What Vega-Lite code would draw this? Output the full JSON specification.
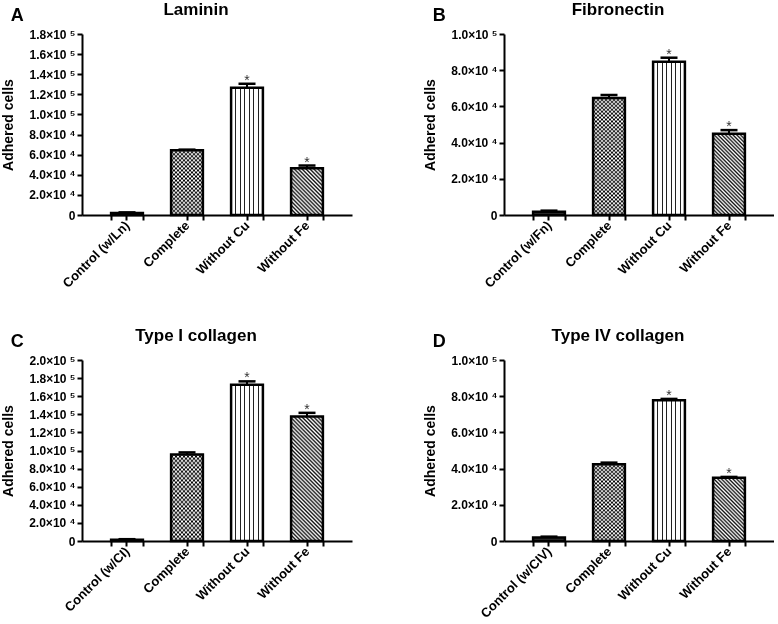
{
"$schema": "https://vega.github.io/schema/vega-lite/v6.json",
"background": "white",
"padding": {"left": 1, "top": 1, "right": 0, "bottom": 0},
"spacing": 36,
"vconcat": [
{"hconcat": [
{"title": {"text": "A", "anchor": "start", "frame": "bounds", "fontSize": 18, "offset": -24, "dx": 9},
 "vconcat": [{
  "width": 270, "height": 181,
  "title": {"text": "Laminin", "dx": -21},
  "data": {"values": [
   {"g": "Control (w/Ln)", "k": "ctl", "v": 2000, "u": 2600, "s": ""},
   {"g": "Complete", "k": "cmp", "v": 64500, "u": 65000, "s": ""},
   {"g": "Without Cu", "k": "cu", "v": 126500, "u": 130500, "s": "*"},
   {"g": "Without Fe", "k": "fe", "v": 46400, "u": 49200, "s": "*"}]},
  "encoding": {
   "x": {"field": "g", "type": "nominal", "sort": null, "scale": {"paddingInner": 0.47, "paddingOuter": 0.485}, "axis": null},
   "y": {"field": "v", "type": "quantitative", "scale": {"domain": [0, 180000], "nice": false},
     "axis": {"title": "Adhered cells", "values": [0,20000,40000,60000,80000,100000,120000,140000,160000,180000],
       "labelExpr": "datum.value == 0 ? '0' : (datum.value >= 100000 ? format(datum.value/100000, '.1f') + '×10 ⁵' : format(datum.value/10000, '.1f') + '×10 ⁴')"}}},
  "resolve": {"axis": {"x": "independent"}},
  "layer": [
   {"transform": [{"filter": "datum.k == 'ctl'"}], "mark": {"type": "bar", "fill": "#333"},
    "encoding": {"x": {"field": "g", "type": "nominal", "sort": null, "scale": {"paddingInner": 0.47, "paddingOuter": 0.485}, "axis": {"orient": "bottom", "title": null, "tickBand": "extent", "labelAngle": -45, "labelAlign": "right", "labelBaseline": "middle"}}}},
   {"transform": [{"filter": "datum.k == 'cmp'"}], "mark": {"type": "bar", "fill": {"gradient": "linear", "x1": 0, "y1": 0, "x2": 1, "y2": 0, "stops": [
   {"offset": 0, "color": "#000"}, {"offset": 0.0625, "color": "#000"}, {"offset": 0.0625, "color": "#fff"}, {"offset": 0.125, "color": "#fff"},
   {"offset": 0.125, "color": "#000"}, {"offset": 0.1875, "color": "#000"}, {"offset": 0.1875, "color": "#fff"}, {"offset": 0.25, "color": "#fff"},
   {"offset": 0.25, "color": "#000"}, {"offset": 0.3125, "color": "#000"}, {"offset": 0.3125, "color": "#fff"}, {"offset": 0.375, "color": "#fff"},
   {"offset": 0.375, "color": "#000"}, {"offset": 0.4375, "color": "#000"}, {"offset": 0.4375, "color": "#fff"}, {"offset": 0.5, "color": "#fff"},
   {"offset": 0.5, "color": "#000"}, {"offset": 0.5625, "color": "#000"}, {"offset": 0.5625, "color": "#fff"}, {"offset": 0.625, "color": "#fff"},
   {"offset": 0.625, "color": "#000"}, {"offset": 0.6875, "color": "#000"}, {"offset": 0.6875, "color": "#fff"}, {"offset": 0.75, "color": "#fff"},
   {"offset": 0.75, "color": "#000"}, {"offset": 0.8125, "color": "#000"}, {"offset": 0.8125, "color": "#fff"}, {"offset": 0.875, "color": "#fff"},
   {"offset": 0.875, "color": "#000"}, {"offset": 0.9375, "color": "#000"}, {"offset": 0.9375, "color": "#fff"}, {"offset": 1, "color": "#fff"}]}}},
   {"transform": [{"filter": "datum.k == 'cmp'"}], "mark": {"type": "bar", "blend": "difference", "fill": {"gradient": "linear", "x1": 0, "y1": 0, "x2": 0, "y2": 1, "stops": [
   {"offset": 0, "color": "#fff"}, {"offset": 0.03125, "color": "rgba(255,255,255,0)"}, {"offset": 0.0625, "color": "#fff"}, {"offset": 0.09375, "color": "rgba(255,255,255,0)"},
   {"offset": 0.125, "color": "#fff"}, {"offset": 0.15625, "color": "rgba(255,255,255,0)"}, {"offset": 0.1875, "color": "#fff"}, {"offset": 0.21875, "color": "rgba(255,255,255,0)"},
   {"offset": 0.25, "color": "#fff"}, {"offset": 0.28125, "color": "rgba(255,255,255,0)"}, {"offset": 0.3125, "color": "#fff"}, {"offset": 0.34375, "color": "rgba(255,255,255,0)"},
   {"offset": 0.375, "color": "#fff"}, {"offset": 0.40625, "color": "rgba(255,255,255,0)"}, {"offset": 0.4375, "color": "#fff"}, {"offset": 0.46875, "color": "rgba(255,255,255,0)"},
   {"offset": 0.5, "color": "#fff"}, {"offset": 0.53125, "color": "rgba(255,255,255,0)"}, {"offset": 0.5625, "color": "#fff"}, {"offset": 0.59375, "color": "rgba(255,255,255,0)"},
   {"offset": 0.625, "color": "#fff"}, {"offset": 0.65625, "color": "rgba(255,255,255,0)"}, {"offset": 0.6875, "color": "#fff"}, {"offset": 0.71875, "color": "rgba(255,255,255,0)"},
   {"offset": 0.75, "color": "#fff"}, {"offset": 0.78125, "color": "rgba(255,255,255,0)"}, {"offset": 0.8125, "color": "#fff"}, {"offset": 0.84375, "color": "rgba(255,255,255,0)"},
   {"offset": 0.875, "color": "#fff"}, {"offset": 0.90625, "color": "rgba(255,255,255,0)"}, {"offset": 0.9375, "color": "#fff"}, {"offset": 0.96875, "color": "rgba(255,255,255,0)"},
   {"offset": 1, "color": "#fff"}]}}},
   {"transform": [{"filter": "datum.k == 'cu'"}], "mark": {"type": "bar", "fill": {"gradient": "linear", "x1": 0, "y1": 0, "x2": 1, "y2": 0, "stops": [
   {"offset": 0, "color": "#fff"},
   {"offset": 0.125, "color": "#fff"}, {"offset": 0.125, "color": "#222"}, {"offset": 0.161, "color": "#222"}, {"offset": 0.161, "color": "#fff"},
   {"offset": 0.268, "color": "#fff"}, {"offset": 0.268, "color": "#222"}, {"offset": 0.304, "color": "#222"}, {"offset": 0.304, "color": "#fff"},
   {"offset": 0.411, "color": "#fff"}, {"offset": 0.411, "color": "#222"}, {"offset": 0.447, "color": "#222"}, {"offset": 0.447, "color": "#fff"},
   {"offset": 0.553, "color": "#fff"}, {"offset": 0.553, "color": "#222"}, {"offset": 0.589, "color": "#222"}, {"offset": 0.589, "color": "#fff"},
   {"offset": 0.696, "color": "#fff"}, {"offset": 0.696, "color": "#222"}, {"offset": 0.732, "color": "#222"}, {"offset": 0.732, "color": "#fff"},
   {"offset": 0.839, "color": "#fff"}, {"offset": 0.839, "color": "#222"}, {"offset": 0.875, "color": "#222"}, {"offset": 0.875, "color": "#fff"},
   {"offset": 1, "color": "#fff"}]}}},
   {"transform": [{"filter": "datum.k == 'fe'"}], "mark": {"type": "bar", "fill": {"gradient": "linear", "x1": 0, "y1": 1, "x2": 0.79, "y2": -0.145, "stops": [
   {"offset": 0, "color": "#fff"}, {"offset": 0.025, "color": "#111"}, {"offset": 0.05, "color": "#fff"}, {"offset": 0.075, "color": "#111"},
   {"offset": 0.1, "color": "#fff"}, {"offset": 0.125, "color": "#111"}, {"offset": 0.15, "color": "#fff"}, {"offset": 0.175, "color": "#111"},
   {"offset": 0.2, "color": "#fff"}, {"offset": 0.225, "color": "#111"}, {"offset": 0.25, "color": "#fff"}, {"offset": 0.275, "color": "#111"},
   {"offset": 0.3, "color": "#fff"}, {"offset": 0.325, "color": "#111"}, {"offset": 0.35, "color": "#fff"}, {"offset": 0.375, "color": "#111"},
   {"offset": 0.4, "color": "#fff"}, {"offset": 0.425, "color": "#111"}, {"offset": 0.45, "color": "#fff"}, {"offset": 0.475, "color": "#111"},
   {"offset": 0.5, "color": "#fff"}, {"offset": 0.525, "color": "#111"}, {"offset": 0.55, "color": "#fff"}, {"offset": 0.575, "color": "#111"},
   {"offset": 0.6, "color": "#fff"}, {"offset": 0.625, "color": "#111"}, {"offset": 0.65, "color": "#fff"}, {"offset": 0.675, "color": "#111"},
   {"offset": 0.7, "color": "#fff"}, {"offset": 0.725, "color": "#111"}, {"offset": 0.75, "color": "#fff"}, {"offset": 0.775, "color": "#111"},
   {"offset": 0.8, "color": "#fff"}, {"offset": 0.825, "color": "#111"}, {"offset": 0.85, "color": "#fff"}, {"offset": 0.875, "color": "#111"},
   {"offset": 0.9, "color": "#fff"}, {"offset": 0.925, "color": "#111"}, {"offset": 0.95, "color": "#fff"}, {"offset": 0.975, "color": "#111"},
   {"offset": 1, "color": "#fff"}]}}},
   {"mark": {"type": "bar", "fill": "transparent", "stroke": "black", "strokeWidth": 2.5},
    "encoding": {"x": {"field": "g", "type": "nominal", "sort": null, "scale": {"paddingInner": 0.47, "paddingOuter": 0.485}, "axis": {"orient": "bottom", "title": null, "labels": false, "domain": false}}}},
   {"mark": {"type": "rule", "strokeWidth": 2, "color": "black"}, "encoding": {"y2": {"field": "u"}}},
   {"mark": {"type": "tick", "thickness": 2.5, "size": 17, "color": "black", "opacity": 1}, "encoding": {"y": {"field": "u", "type": "quantitative"}}},
   {"mark": {"type": "text", "fontSize": 14, "color": "#333", "baseline": "alphabetic", "dy": 1, "font": "Liberation Sans"}, "encoding": {"y": {"field": "u", "type": "quantitative"}, "text": {"field": "s"}}}
  ]}]},
{"title": {"text": "B", "anchor": "start", "frame": "bounds", "fontSize": 18, "offset": -24, "dx": 9},
 "vconcat": [{
  "width": 270, "height": 181,
  "title": {"text": "Fibronectin", "dx": -21},
  "data": {"values": [
   {"g": "Control (w/Fn)", "k": "ctl", "v": 1800, "u": 2400, "s": ""},
   {"g": "Complete", "k": "cmp", "v": 64600, "u": 66300, "s": ""},
   {"g": "Without Cu", "k": "cu", "v": 84700, "u": 86900, "s": "*"},
   {"g": "Without Fe", "k": "fe", "v": 44900, "u": 46900, "s": "*"}]},
  "encoding": {
   "x": {"field": "g", "type": "nominal", "sort": null, "scale": {"paddingInner": 0.47, "paddingOuter": 0.485}, "axis": null},
   "y": {"field": "v", "type": "quantitative", "scale": {"domain": [0, 100000], "nice": false},
     "axis": {"title": "Adhered cells", "values": [0,20000,40000,60000,80000,100000],
       "labelExpr": "datum.value == 0 ? '0' : (datum.value >= 100000 ? format(datum.value/100000, '.1f') + '×10 ⁵' : format(datum.value/10000, '.1f') + '×10 ⁴')"}}},
  "resolve": {"axis": {"x": "independent"}},
  "layer": [
   {"transform": [{"filter": "datum.k == 'ctl'"}], "mark": {"type": "bar", "fill": "#333"},
    "encoding": {"x": {"field": "g", "type": "nominal", "sort": null, "scale": {"paddingInner": 0.47, "paddingOuter": 0.485}, "axis": {"orient": "bottom", "title": null, "tickBand": "extent", "labelAngle": -45, "labelAlign": "right", "labelBaseline": "middle"}}}},
   {"transform": [{"filter": "datum.k == 'cmp'"}], "mark": {"type": "bar", "fill": {"gradient": "linear", "x1": 0, "y1": 0, "x2": 1, "y2": 0, "stops": [
   {"offset": 0, "color": "#000"}, {"offset": 0.0625, "color": "#000"}, {"offset": 0.0625, "color": "#fff"}, {"offset": 0.125, "color": "#fff"},
   {"offset": 0.125, "color": "#000"}, {"offset": 0.1875, "color": "#000"}, {"offset": 0.1875, "color": "#fff"}, {"offset": 0.25, "color": "#fff"},
   {"offset": 0.25, "color": "#000"}, {"offset": 0.3125, "color": "#000"}, {"offset": 0.3125, "color": "#fff"}, {"offset": 0.375, "color": "#fff"},
   {"offset": 0.375, "color": "#000"}, {"offset": 0.4375, "color": "#000"}, {"offset": 0.4375, "color": "#fff"}, {"offset": 0.5, "color": "#fff"},
   {"offset": 0.5, "color": "#000"}, {"offset": 0.5625, "color": "#000"}, {"offset": 0.5625, "color": "#fff"}, {"offset": 0.625, "color": "#fff"},
   {"offset": 0.625, "color": "#000"}, {"offset": 0.6875, "color": "#000"}, {"offset": 0.6875, "color": "#fff"}, {"offset": 0.75, "color": "#fff"},
   {"offset": 0.75, "color": "#000"}, {"offset": 0.8125, "color": "#000"}, {"offset": 0.8125, "color": "#fff"}, {"offset": 0.875, "color": "#fff"},
   {"offset": 0.875, "color": "#000"}, {"offset": 0.9375, "color": "#000"}, {"offset": 0.9375, "color": "#fff"}, {"offset": 1, "color": "#fff"}]}}},
   {"transform": [{"filter": "datum.k == 'cmp'"}], "mark": {"type": "bar", "blend": "difference", "fill": {"gradient": "linear", "x1": 0, "y1": 0, "x2": 0, "y2": 1, "stops": [
   {"offset": 0, "color": "#fff"}, {"offset": 0.0167, "color": "rgba(255,255,255,0)"}, {"offset": 0.0333, "color": "#fff"}, {"offset": 0.05, "color": "rgba(255,255,255,0)"},
   {"offset": 0.0667, "color": "#fff"}, {"offset": 0.0833, "color": "rgba(255,255,255,0)"}, {"offset": 0.1, "color": "#fff"}, {"offset": 0.1167, "color": "rgba(255,255,255,0)"},
   {"offset": 0.1333, "color": "#fff"}, {"offset": 0.15, "color": "rgba(255,255,255,0)"}, {"offset": 0.1667, "color": "#fff"}, {"offset": 0.1833, "color": "rgba(255,255,255,0)"},
   {"offset": 0.2, "color": "#fff"}, {"offset": 0.2167, "color": "rgba(255,255,255,0)"}, {"offset": 0.2333, "color": "#fff"}, {"offset": 0.25, "color": "rgba(255,255,255,0)"},
   {"offset": 0.2667, "color": "#fff"}, {"offset": 0.2833, "color": "rgba(255,255,255,0)"}, {"offset": 0.3, "color": "#fff"}, {"offset": 0.3167, "color": "rgba(255,255,255,0)"},
   {"offset": 0.3333, "color": "#fff"}, {"offset": 0.35, "color": "rgba(255,255,255,0)"}, {"offset": 0.3667, "color": "#fff"}, {"offset": 0.3833, "color": "rgba(255,255,255,0)"},
   {"offset": 0.4, "color": "#fff"}, {"offset": 0.4167, "color": "rgba(255,255,255,0)"}, {"offset": 0.4333, "color": "#fff"}, {"offset": 0.45, "color": "rgba(255,255,255,0)"},
   {"offset": 0.4667, "color": "#fff"}, {"offset": 0.4833, "color": "rgba(255,255,255,0)"}, {"offset": 0.5, "color": "#fff"}, {"offset": 0.5167, "color": "rgba(255,255,255,0)"},
   {"offset": 0.5333, "color": "#fff"}, {"offset": 0.55, "color": "rgba(255,255,255,0)"}, {"offset": 0.5667, "color": "#fff"}, {"offset": 0.5833, "color": "rgba(255,255,255,0)"},
   {"offset": 0.6, "color": "#fff"}, {"offset": 0.6167, "color": "rgba(255,255,255,0)"}, {"offset": 0.6333, "color": "#fff"}, {"offset": 0.65, "color": "rgba(255,255,255,0)"},
   {"offset": 0.6667, "color": "#fff"}, {"offset": 0.6833, "color": "rgba(255,255,255,0)"}, {"offset": 0.7, "color": "#fff"}, {"offset": 0.7167, "color": "rgba(255,255,255,0)"},
   {"offset": 0.7333, "color": "#fff"}, {"offset": 0.75, "color": "rgba(255,255,255,0)"}, {"offset": 0.7667, "color": "#fff"}, {"offset": 0.7833, "color": "rgba(255,255,255,0)"},
   {"offset": 0.8, "color": "#fff"}, {"offset": 0.8167, "color": "rgba(255,255,255,0)"}, {"offset": 0.8333, "color": "#fff"}, {"offset": 0.85, "color": "rgba(255,255,255,0)"},
   {"offset": 0.8667, "color": "#fff"}, {"offset": 0.8833, "color": "rgba(255,255,255,0)"}, {"offset": 0.9, "color": "#fff"}, {"offset": 0.9167, "color": "rgba(255,255,255,0)"},
   {"offset": 0.9333, "color": "#fff"}, {"offset": 0.95, "color": "rgba(255,255,255,0)"}, {"offset": 0.9667, "color": "#fff"}, {"offset": 0.9833, "color": "rgba(255,255,255,0)"},
   {"offset": 1, "color": "#fff"}]}}},
   {"transform": [{"filter": "datum.k == 'cu'"}], "mark": {"type": "bar", "fill": {"gradient": "linear", "x1": 0, "y1": 0, "x2": 1, "y2": 0, "stops": [
   {"offset": 0, "color": "#fff"},
   {"offset": 0.125, "color": "#fff"}, {"offset": 0.125, "color": "#222"}, {"offset": 0.161, "color": "#222"}, {"offset": 0.161, "color": "#fff"},
   {"offset": 0.268, "color": "#fff"}, {"offset": 0.268, "color": "#222"}, {"offset": 0.304, "color": "#222"}, {"offset": 0.304, "color": "#fff"},
   {"offset": 0.411, "color": "#fff"}, {"offset": 0.411, "color": "#222"}, {"offset": 0.447, "color": "#222"}, {"offset": 0.447, "color": "#fff"},
   {"offset": 0.553, "color": "#fff"}, {"offset": 0.553, "color": "#222"}, {"offset": 0.589, "color": "#222"}, {"offset": 0.589, "color": "#fff"},
   {"offset": 0.696, "color": "#fff"}, {"offset": 0.696, "color": "#222"}, {"offset": 0.732, "color": "#222"}, {"offset": 0.732, "color": "#fff"},
   {"offset": 0.839, "color": "#fff"}, {"offset": 0.839, "color": "#222"}, {"offset": 0.875, "color": "#222"}, {"offset": 0.875, "color": "#fff"},
   {"offset": 1, "color": "#fff"}]}}},
   {"transform": [{"filter": "datum.k == 'fe'"}], "mark": {"type": "bar", "fill": {"gradient": "linear", "x1": 0, "y1": 1, "x2": 0.477, "y2": -0.207, "stops": [
   {"offset": 0, "color": "#fff"}, {"offset": 0.0167, "color": "#111"}, {"offset": 0.0333, "color": "#fff"}, {"offset": 0.05, "color": "#111"},
   {"offset": 0.0667, "color": "#fff"}, {"offset": 0.0833, "color": "#111"}, {"offset": 0.1, "color": "#fff"}, {"offset": 0.1167, "color": "#111"},
   {"offset": 0.1333, "color": "#fff"}, {"offset": 0.15, "color": "#111"}, {"offset": 0.1667, "color": "#fff"}, {"offset": 0.1833, "color": "#111"},
   {"offset": 0.2, "color": "#fff"}, {"offset": 0.2167, "color": "#111"}, {"offset": 0.2333, "color": "#fff"}, {"offset": 0.25, "color": "#111"},
   {"offset": 0.2667, "color": "#fff"}, {"offset": 0.2833, "color": "#111"}, {"offset": 0.3, "color": "#fff"}, {"offset": 0.3167, "color": "#111"},
   {"offset": 0.3333, "color": "#fff"}, {"offset": 0.35, "color": "#111"}, {"offset": 0.3667, "color": "#fff"}, {"offset": 0.3833, "color": "#111"},
   {"offset": 0.4, "color": "#fff"}, {"offset": 0.4167, "color": "#111"}, {"offset": 0.4333, "color": "#fff"}, {"offset": 0.45, "color": "#111"},
   {"offset": 0.4667, "color": "#fff"}, {"offset": 0.4833, "color": "#111"}, {"offset": 0.5, "color": "#fff"}, {"offset": 0.5167, "color": "#111"},
   {"offset": 0.5333, "color": "#fff"}, {"offset": 0.55, "color": "#111"}, {"offset": 0.5667, "color": "#fff"}, {"offset": 0.5833, "color": "#111"},
   {"offset": 0.6, "color": "#fff"}, {"offset": 0.6167, "color": "#111"}, {"offset": 0.6333, "color": "#fff"}, {"offset": 0.65, "color": "#111"},
   {"offset": 0.6667, "color": "#fff"}, {"offset": 0.6833, "color": "#111"}, {"offset": 0.7, "color": "#fff"}, {"offset": 0.7167, "color": "#111"},
   {"offset": 0.7333, "color": "#fff"}, {"offset": 0.75, "color": "#111"}, {"offset": 0.7667, "color": "#fff"}, {"offset": 0.7833, "color": "#111"},
   {"offset": 0.8, "color": "#fff"}, {"offset": 0.8167, "color": "#111"}, {"offset": 0.8333, "color": "#fff"}, {"offset": 0.85, "color": "#111"},
   {"offset": 0.8667, "color": "#fff"}, {"offset": 0.8833, "color": "#111"}, {"offset": 0.9, "color": "#fff"}, {"offset": 0.9167, "color": "#111"},
   {"offset": 0.9333, "color": "#fff"}, {"offset": 0.95, "color": "#111"}, {"offset": 0.9667, "color": "#fff"}, {"offset": 0.9833, "color": "#111"},
   {"offset": 1, "color": "#fff"}]}}},
   {"mark": {"type": "bar", "fill": "transparent", "stroke": "black", "strokeWidth": 2.5},
    "encoding": {"x": {"field": "g", "type": "nominal", "sort": null, "scale": {"paddingInner": 0.47, "paddingOuter": 0.485}, "axis": {"orient": "bottom", "title": null, "labels": false, "domain": false}}}},
   {"mark": {"type": "rule", "strokeWidth": 2, "color": "black"}, "encoding": {"y2": {"field": "u"}}},
   {"mark": {"type": "tick", "thickness": 2.5, "size": 17, "color": "black", "opacity": 1}, "encoding": {"y": {"field": "u", "type": "quantitative"}}},
   {"mark": {"type": "text", "fontSize": 14, "color": "#333", "baseline": "alphabetic", "dy": 1, "font": "Liberation Sans"}, "encoding": {"y": {"field": "u", "type": "quantitative"}, "text": {"field": "s"}}}
  ]}]}
], "spacing": 71},
{"hconcat": [
{"title": {"text": "C", "anchor": "start", "frame": "bounds", "fontSize": 18, "offset": -24, "dx": 9},
 "vconcat": [{
  "width": 270, "height": 181,
  "title": {"text": "Type I collagen", "dx": -21},
  "data": {"values": [
   {"g": "Control (w/CI)", "k": "ctl", "v": 1500, "u": 2000, "s": ""},
   {"g": "Complete", "k": "cmp", "v": 95700, "u": 97900, "s": ""},
   {"g": "Without Cu", "k": "cu", "v": 172700, "u": 176400, "s": "*"},
   {"g": "Without Fe", "k": "fe", "v": 137500, "u": 141600, "s": "*"}]},
  "encoding": {
   "x": {"field": "g", "type": "nominal", "sort": null, "scale": {"paddingInner": 0.47, "paddingOuter": 0.485}, "axis": null},
   "y": {"field": "v", "type": "quantitative", "scale": {"domain": [0, 200000], "nice": false},
     "axis": {"title": "Adhered cells", "values": [0,20000,40000,60000,80000,100000,120000,140000,160000,180000,200000],
       "labelExpr": "datum.value == 0 ? '0' : (datum.value >= 100000 ? format(datum.value/100000, '.1f') + '×10 ⁵' : format(datum.value/10000, '.1f') + '×10 ⁴')"}}},
  "resolve": {"axis": {"x": "independent"}},
  "layer": [
   {"transform": [{"filter": "datum.k == 'ctl'"}], "mark": {"type": "bar", "fill": "#333"},
    "encoding": {"x": {"field": "g", "type": "nominal", "sort": null, "scale": {"paddingInner": 0.47, "paddingOuter": 0.485}, "axis": {"orient": "bottom", "title": null, "tickBand": "extent", "labelAngle": -45, "labelAlign": "right", "labelBaseline": "middle"}}}},
   {"transform": [{"filter": "datum.k == 'cmp'"}], "mark": {"type": "bar", "fill": {"gradient": "linear", "x1": 0, "y1": 0, "x2": 1, "y2": 0, "stops": [
   {"offset": 0, "color": "#000"}, {"offset": 0.0625, "color": "#000"}, {"offset": 0.0625, "color": "#fff"}, {"offset": 0.125, "color": "#fff"},
   {"offset": 0.125, "color": "#000"}, {"offset": 0.1875, "color": "#000"}, {"offset": 0.1875, "color": "#fff"}, {"offset": 0.25, "color": "#fff"},
   {"offset": 0.25, "color": "#000"}, {"offset": 0.3125, "color": "#000"}, {"offset": 0.3125, "color": "#fff"}, {"offset": 0.375, "color": "#fff"},
   {"offset": 0.375, "color": "#000"}, {"offset": 0.4375, "color": "#000"}, {"offset": 0.4375, "color": "#fff"}, {"offset": 0.5, "color": "#fff"},
   {"offset": 0.5, "color": "#000"}, {"offset": 0.5625, "color": "#000"}, {"offset": 0.5625, "color": "#fff"}, {"offset": 0.625, "color": "#fff"},
   {"offset": 0.625, "color": "#000"}, {"offset": 0.6875, "color": "#000"}, {"offset": 0.6875, "color": "#fff"}, {"offset": 0.75, "color": "#fff"},
   {"offset": 0.75, "color": "#000"}, {"offset": 0.8125, "color": "#000"}, {"offset": 0.8125, "color": "#fff"}, {"offset": 0.875, "color": "#fff"},
   {"offset": 0.875, "color": "#000"}, {"offset": 0.9375, "color": "#000"}, {"offset": 0.9375, "color": "#fff"}, {"offset": 1, "color": "#fff"}]}}},
   {"transform": [{"filter": "datum.k == 'cmp'"}], "mark": {"type": "bar", "blend": "difference", "fill": {"gradient": "linear", "x1": 0, "y1": 0, "x2": 0, "y2": 1, "stops": [
   {"offset": 0, "color": "#fff"}, {"offset": 0.025, "color": "rgba(255,255,255,0)"}, {"offset": 0.05, "color": "#fff"}, {"offset": 0.075, "color": "rgba(255,255,255,0)"},
   {"offset": 0.1, "color": "#fff"}, {"offset": 0.125, "color": "rgba(255,255,255,0)"}, {"offset": 0.15, "color": "#fff"}, {"offset": 0.175, "color": "rgba(255,255,255,0)"},
   {"offset": 0.2, "color": "#fff"}, {"offset": 0.225, "color": "rgba(255,255,255,0)"}, {"offset": 0.25, "color": "#fff"}, {"offset": 0.275, "color": "rgba(255,255,255,0)"},
   {"offset": 0.3, "color": "#fff"}, {"offset": 0.325, "color": "rgba(255,255,255,0)"}, {"offset": 0.35, "color": "#fff"}, {"offset": 0.375, "color": "rgba(255,255,255,0)"},
   {"offset": 0.4, "color": "#fff"}, {"offset": 0.425, "color": "rgba(255,255,255,0)"}, {"offset": 0.45, "color": "#fff"}, {"offset": 0.475, "color": "rgba(255,255,255,0)"},
   {"offset": 0.5, "color": "#fff"}, {"offset": 0.525, "color": "rgba(255,255,255,0)"}, {"offset": 0.55, "color": "#fff"}, {"offset": 0.575, "color": "rgba(255,255,255,0)"},
   {"offset": 0.6, "color": "#fff"}, {"offset": 0.625, "color": "rgba(255,255,255,0)"}, {"offset": 0.65, "color": "#fff"}, {"offset": 0.675, "color": "rgba(255,255,255,0)"},
   {"offset": 0.7, "color": "#fff"}, {"offset": 0.725, "color": "rgba(255,255,255,0)"}, {"offset": 0.75, "color": "#fff"}, {"offset": 0.775, "color": "rgba(255,255,255,0)"},
   {"offset": 0.8, "color": "#fff"}, {"offset": 0.825, "color": "rgba(255,255,255,0)"}, {"offset": 0.85, "color": "#fff"}, {"offset": 0.875, "color": "rgba(255,255,255,0)"},
   {"offset": 0.9, "color": "#fff"}, {"offset": 0.925, "color": "rgba(255,255,255,0)"}, {"offset": 0.95, "color": "#fff"}, {"offset": 0.975, "color": "rgba(255,255,255,0)"},
   {"offset": 1, "color": "#fff"}]}}},
   {"transform": [{"filter": "datum.k == 'cu'"}], "mark": {"type": "bar", "fill": {"gradient": "linear", "x1": 0, "y1": 0, "x2": 1, "y2": 0, "stops": [
   {"offset": 0, "color": "#fff"},
   {"offset": 0.125, "color": "#fff"}, {"offset": 0.125, "color": "#222"}, {"offset": 0.161, "color": "#222"}, {"offset": 0.161, "color": "#fff"},
   {"offset": 0.268, "color": "#fff"}, {"offset": 0.268, "color": "#222"}, {"offset": 0.304, "color": "#222"}, {"offset": 0.304, "color": "#fff"},
   {"offset": 0.411, "color": "#fff"}, {"offset": 0.411, "color": "#222"}, {"offset": 0.447, "color": "#222"}, {"offset": 0.447, "color": "#fff"},
   {"offset": 0.553, "color": "#fff"}, {"offset": 0.553, "color": "#222"}, {"offset": 0.589, "color": "#222"}, {"offset": 0.589, "color": "#fff"},
   {"offset": 0.696, "color": "#fff"}, {"offset": 0.696, "color": "#222"}, {"offset": 0.732, "color": "#222"}, {"offset": 0.732, "color": "#fff"},
   {"offset": 0.839, "color": "#fff"}, {"offset": 0.839, "color": "#222"}, {"offset": 0.875, "color": "#222"}, {"offset": 0.875, "color": "#fff"},
   {"offset": 1, "color": "#fff"}]}}},
   {"transform": [{"filter": "datum.k == 'fe'"}], "mark": {"type": "bar", "fill": {"gradient": "linear", "x1": 0, "y1": 1, "x2": 0.304, "y2": -0.18, "stops": [
   {"offset": 0, "color": "#fff"}, {"offset": 0.0125, "color": "#111"}, {"offset": 0.025, "color": "#fff"}, {"offset": 0.0375, "color": "#111"},
   {"offset": 0.05, "color": "#fff"}, {"offset": 0.0625, "color": "#111"}, {"offset": 0.075, "color": "#fff"}, {"offset": 0.0875, "color": "#111"},
   {"offset": 0.1, "color": "#fff"}, {"offset": 0.1125, "color": "#111"}, {"offset": 0.125, "color": "#fff"}, {"offset": 0.1375, "color": "#111"},
   {"offset": 0.15, "color": "#fff"}, {"offset": 0.1625, "color": "#111"}, {"offset": 0.175, "color": "#fff"}, {"offset": 0.1875, "color": "#111"},
   {"offset": 0.2, "color": "#fff"}, {"offset": 0.2125, "color": "#111"}, {"offset": 0.225, "color": "#fff"}, {"offset": 0.2375, "color": "#111"},
   {"offset": 0.25, "color": "#fff"}, {"offset": 0.2625, "color": "#111"}, {"offset": 0.275, "color": "#fff"}, {"offset": 0.2875, "color": "#111"},
   {"offset": 0.3, "color": "#fff"}, {"offset": 0.3125, "color": "#111"}, {"offset": 0.325, "color": "#fff"}, {"offset": 0.3375, "color": "#111"},
   {"offset": 0.35, "color": "#fff"}, {"offset": 0.3625, "color": "#111"}, {"offset": 0.375, "color": "#fff"}, {"offset": 0.3875, "color": "#111"},
   {"offset": 0.4, "color": "#fff"}, {"offset": 0.4125, "color": "#111"}, {"offset": 0.425, "color": "#fff"}, {"offset": 0.4375, "color": "#111"},
   {"offset": 0.45, "color": "#fff"}, {"offset": 0.4625, "color": "#111"}, {"offset": 0.475, "color": "#fff"}, {"offset": 0.4875, "color": "#111"},
   {"offset": 0.5, "color": "#fff"}, {"offset": 0.5125, "color": "#111"}, {"offset": 0.525, "color": "#fff"}, {"offset": 0.5375, "color": "#111"},
   {"offset": 0.55, "color": "#fff"}, {"offset": 0.5625, "color": "#111"}, {"offset": 0.575, "color": "#fff"}, {"offset": 0.5875, "color": "#111"},
   {"offset": 0.6, "color": "#fff"}, {"offset": 0.6125, "color": "#111"}, {"offset": 0.625, "color": "#fff"}, {"offset": 0.6375, "color": "#111"},
   {"offset": 0.65, "color": "#fff"}, {"offset": 0.6625, "color": "#111"}, {"offset": 0.675, "color": "#fff"}, {"offset": 0.6875, "color": "#111"},
   {"offset": 0.7, "color": "#fff"}, {"offset": 0.7125, "color": "#111"}, {"offset": 0.725, "color": "#fff"}, {"offset": 0.7375, "color": "#111"},
   {"offset": 0.75, "color": "#fff"}, {"offset": 0.7625, "color": "#111"}, {"offset": 0.775, "color": "#fff"}, {"offset": 0.7875, "color": "#111"},
   {"offset": 0.8, "color": "#fff"}, {"offset": 0.8125, "color": "#111"}, {"offset": 0.825, "color": "#fff"}, {"offset": 0.8375, "color": "#111"},
   {"offset": 0.85, "color": "#fff"}, {"offset": 0.8625, "color": "#111"}, {"offset": 0.875, "color": "#fff"}, {"offset": 0.8875, "color": "#111"},
   {"offset": 0.9, "color": "#fff"}, {"offset": 0.9125, "color": "#111"}, {"offset": 0.925, "color": "#fff"}, {"offset": 0.9375, "color": "#111"},
   {"offset": 0.95, "color": "#fff"}, {"offset": 0.9625, "color": "#111"}, {"offset": 0.975, "color": "#fff"}, {"offset": 0.9875, "color": "#111"},
   {"offset": 1, "color": "#fff"}]}}},
   {"mark": {"type": "bar", "fill": "transparent", "stroke": "black", "strokeWidth": 2.5},
    "encoding": {"x": {"field": "g", "type": "nominal", "sort": null, "scale": {"paddingInner": 0.47, "paddingOuter": 0.485}, "axis": {"orient": "bottom", "title": null, "labels": false, "domain": false}}}},
   {"mark": {"type": "rule", "strokeWidth": 2, "color": "black"}, "encoding": {"y2": {"field": "u"}}},
   {"mark": {"type": "tick", "thickness": 2.5, "size": 17, "color": "black", "opacity": 1}, "encoding": {"y": {"field": "u", "type": "quantitative"}}},
   {"mark": {"type": "text", "fontSize": 14, "color": "#333", "baseline": "alphabetic", "dy": 1, "font": "Liberation Sans"}, "encoding": {"y": {"field": "u", "type": "quantitative"}, "text": {"field": "s"}}}
  ]}]},
{"title": {"text": "D", "anchor": "start", "frame": "bounds", "fontSize": 18, "offset": -24, "dx": 9},
 "vconcat": [{
  "width": 270, "height": 181,
  "title": {"text": "Type IV collagen", "dx": -21},
  "data": {"values": [
   {"g": "Control (w/CIV)", "k": "ctl", "v": 1900, "u": 2400, "s": ""},
   {"g": "Complete", "k": "cmp", "v": 42400, "u": 43300, "s": ""},
   {"g": "Without Cu", "k": "cu", "v": 77700, "u": 78500, "s": "*"},
   {"g": "Without Fe", "k": "fe", "v": 34900, "u": 35400, "s": "*"}]},
  "encoding": {
   "x": {"field": "g", "type": "nominal", "sort": null, "scale": {"paddingInner": 0.47, "paddingOuter": 0.485}, "axis": null},
   "y": {"field": "v", "type": "quantitative", "scale": {"domain": [0, 100000], "nice": false},
     "axis": {"title": "Adhered cells", "values": [0,20000,40000,60000,80000,100000],
       "labelExpr": "datum.value == 0 ? '0' : (datum.value >= 100000 ? format(datum.value/100000, '.1f') + '×10 ⁵' : format(datum.value/10000, '.1f') + '×10 ⁴')"}}},
  "resolve": {"axis": {"x": "independent"}},
  "layer": [
   {"transform": [{"filter": "datum.k == 'ctl'"}], "mark": {"type": "bar", "fill": "#333"},
    "encoding": {"x": {"field": "g", "type": "nominal", "sort": null, "scale": {"paddingInner": 0.47, "paddingOuter": 0.485}, "axis": {"orient": "bottom", "title": null, "tickBand": "extent", "labelAngle": -45, "labelAlign": "right", "labelBaseline": "middle"}}}},
   {"transform": [{"filter": "datum.k == 'cmp'"}], "mark": {"type": "bar", "fill": {"gradient": "linear", "x1": 0, "y1": 0, "x2": 1, "y2": 0, "stops": [
   {"offset": 0, "color": "#000"}, {"offset": 0.0625, "color": "#000"}, {"offset": 0.0625, "color": "#fff"}, {"offset": 0.125, "color": "#fff"},
   {"offset": 0.125, "color": "#000"}, {"offset": 0.1875, "color": "#000"}, {"offset": 0.1875, "color": "#fff"}, {"offset": 0.25, "color": "#fff"},
   {"offset": 0.25, "color": "#000"}, {"offset": 0.3125, "color": "#000"}, {"offset": 0.3125, "color": "#fff"}, {"offset": 0.375, "color": "#fff"},
   {"offset": 0.375, "color": "#000"}, {"offset": 0.4375, "color": "#000"}, {"offset": 0.4375, "color": "#fff"}, {"offset": 0.5, "color": "#fff"},
   {"offset": 0.5, "color": "#000"}, {"offset": 0.5625, "color": "#000"}, {"offset": 0.5625, "color": "#fff"}, {"offset": 0.625, "color": "#fff"},
   {"offset": 0.625, "color": "#000"}, {"offset": 0.6875, "color": "#000"}, {"offset": 0.6875, "color": "#fff"}, {"offset": 0.75, "color": "#fff"},
   {"offset": 0.75, "color": "#000"}, {"offset": 0.8125, "color": "#000"}, {"offset": 0.8125, "color": "#fff"}, {"offset": 0.875, "color": "#fff"},
   {"offset": 0.875, "color": "#000"}, {"offset": 0.9375, "color": "#000"}, {"offset": 0.9375, "color": "#fff"}, {"offset": 1, "color": "#fff"}]}}},
   {"transform": [{"filter": "datum.k == 'cmp'"}], "mark": {"type": "bar", "blend": "difference", "fill": {"gradient": "linear", "x1": 0, "y1": 0, "x2": 0, "y2": 1, "stops": [
   {"offset": 0, "color": "#fff"}, {"offset": 0.025, "color": "rgba(255,255,255,0)"}, {"offset": 0.05, "color": "#fff"}, {"offset": 0.075, "color": "rgba(255,255,255,0)"},
   {"offset": 0.1, "color": "#fff"}, {"offset": 0.125, "color": "rgba(255,255,255,0)"}, {"offset": 0.15, "color": "#fff"}, {"offset": 0.175, "color": "rgba(255,255,255,0)"},
   {"offset": 0.2, "color": "#fff"}, {"offset": 0.225, "color": "rgba(255,255,255,0)"}, {"offset": 0.25, "color": "#fff"}, {"offset": 0.275, "color": "rgba(255,255,255,0)"},
   {"offset": 0.3, "color": "#fff"}, {"offset": 0.325, "color": "rgba(255,255,255,0)"}, {"offset": 0.35, "color": "#fff"}, {"offset": 0.375, "color": "rgba(255,255,255,0)"},
   {"offset": 0.4, "color": "#fff"}, {"offset": 0.425, "color": "rgba(255,255,255,0)"}, {"offset": 0.45, "color": "#fff"}, {"offset": 0.475, "color": "rgba(255,255,255,0)"},
   {"offset": 0.5, "color": "#fff"}, {"offset": 0.525, "color": "rgba(255,255,255,0)"}, {"offset": 0.55, "color": "#fff"}, {"offset": 0.575, "color": "rgba(255,255,255,0)"},
   {"offset": 0.6, "color": "#fff"}, {"offset": 0.625, "color": "rgba(255,255,255,0)"}, {"offset": 0.65, "color": "#fff"}, {"offset": 0.675, "color": "rgba(255,255,255,0)"},
   {"offset": 0.7, "color": "#fff"}, {"offset": 0.725, "color": "rgba(255,255,255,0)"}, {"offset": 0.75, "color": "#fff"}, {"offset": 0.775, "color": "rgba(255,255,255,0)"},
   {"offset": 0.8, "color": "#fff"}, {"offset": 0.825, "color": "rgba(255,255,255,0)"}, {"offset": 0.85, "color": "#fff"}, {"offset": 0.875, "color": "rgba(255,255,255,0)"},
   {"offset": 0.9, "color": "#fff"}, {"offset": 0.925, "color": "rgba(255,255,255,0)"}, {"offset": 0.95, "color": "#fff"}, {"offset": 0.975, "color": "rgba(255,255,255,0)"},
   {"offset": 1, "color": "#fff"}]}}},
   {"transform": [{"filter": "datum.k == 'cu'"}], "mark": {"type": "bar", "fill": {"gradient": "linear", "x1": 0, "y1": 0, "x2": 1, "y2": 0, "stops": [
   {"offset": 0, "color": "#fff"},
   {"offset": 0.125, "color": "#fff"}, {"offset": 0.125, "color": "#222"}, {"offset": 0.161, "color": "#222"}, {"offset": 0.161, "color": "#fff"},
   {"offset": 0.268, "color": "#fff"}, {"offset": 0.268, "color": "#222"}, {"offset": 0.304, "color": "#222"}, {"offset": 0.304, "color": "#fff"},
   {"offset": 0.411, "color": "#fff"}, {"offset": 0.411, "color": "#222"}, {"offset": 0.447, "color": "#222"}, {"offset": 0.447, "color": "#fff"},
   {"offset": 0.553, "color": "#fff"}, {"offset": 0.553, "color": "#222"}, {"offset": 0.589, "color": "#222"}, {"offset": 0.589, "color": "#fff"},
   {"offset": 0.696, "color": "#fff"}, {"offset": 0.696, "color": "#222"}, {"offset": 0.732, "color": "#222"}, {"offset": 0.732, "color": "#fff"},
   {"offset": 0.839, "color": "#fff"}, {"offset": 0.839, "color": "#222"}, {"offset": 0.875, "color": "#222"}, {"offset": 0.875, "color": "#fff"},
   {"offset": 1, "color": "#fff"}]}}},
   {"transform": [{"filter": "datum.k == 'fe'"}], "mark": {"type": "bar", "fill": {"gradient": "linear", "x1": 0, "y1": 1, "x2": 0.609, "y2": -0.199, "stops": [
   {"offset": 0, "color": "#fff"}, {"offset": 0.02, "color": "#111"}, {"offset": 0.04, "color": "#fff"}, {"offset": 0.06, "color": "#111"},
   {"offset": 0.08, "color": "#fff"}, {"offset": 0.1, "color": "#111"}, {"offset": 0.12, "color": "#fff"}, {"offset": 0.14, "color": "#111"},
   {"offset": 0.16, "color": "#fff"}, {"offset": 0.18, "color": "#111"}, {"offset": 0.2, "color": "#fff"}, {"offset": 0.22, "color": "#111"},
   {"offset": 0.24, "color": "#fff"}, {"offset": 0.26, "color": "#111"}, {"offset": 0.28, "color": "#fff"}, {"offset": 0.3, "color": "#111"},
   {"offset": 0.32, "color": "#fff"}, {"offset": 0.34, "color": "#111"}, {"offset": 0.36, "color": "#fff"}, {"offset": 0.38, "color": "#111"},
   {"offset": 0.4, "color": "#fff"}, {"offset": 0.42, "color": "#111"}, {"offset": 0.44, "color": "#fff"}, {"offset": 0.46, "color": "#111"},
   {"offset": 0.48, "color": "#fff"}, {"offset": 0.5, "color": "#111"}, {"offset": 0.52, "color": "#fff"}, {"offset": 0.54, "color": "#111"},
   {"offset": 0.56, "color": "#fff"}, {"offset": 0.58, "color": "#111"}, {"offset": 0.6, "color": "#fff"}, {"offset": 0.62, "color": "#111"},
   {"offset": 0.64, "color": "#fff"}, {"offset": 0.66, "color": "#111"}, {"offset": 0.68, "color": "#fff"}, {"offset": 0.7, "color": "#111"},
   {"offset": 0.72, "color": "#fff"}, {"offset": 0.74, "color": "#111"}, {"offset": 0.76, "color": "#fff"}, {"offset": 0.78, "color": "#111"},
   {"offset": 0.8, "color": "#fff"}, {"offset": 0.82, "color": "#111"}, {"offset": 0.84, "color": "#fff"}, {"offset": 0.86, "color": "#111"},
   {"offset": 0.88, "color": "#fff"}, {"offset": 0.9, "color": "#111"}, {"offset": 0.92, "color": "#fff"}, {"offset": 0.94, "color": "#111"},
   {"offset": 0.96, "color": "#fff"}, {"offset": 0.98, "color": "#111"}, {"offset": 1, "color": "#fff"}]}}},
   {"mark": {"type": "bar", "fill": "transparent", "stroke": "black", "strokeWidth": 2.5},
    "encoding": {"x": {"field": "g", "type": "nominal", "sort": null, "scale": {"paddingInner": 0.47, "paddingOuter": 0.485}, "axis": {"orient": "bottom", "title": null, "labels": false, "domain": false}}}},
   {"mark": {"type": "rule", "strokeWidth": 2, "color": "black"}, "encoding": {"y2": {"field": "u"}}},
   {"mark": {"type": "tick", "thickness": 2.5, "size": 17, "color": "black", "opacity": 1}, "encoding": {"y": {"field": "u", "type": "quantitative"}}},
   {"mark": {"type": "text", "fontSize": 14, "color": "#333", "baseline": "alphabetic", "dy": 1, "font": "Liberation Sans"}, "encoding": {"y": {"field": "u", "type": "quantitative"}, "text": {"field": "s"}}}
  ]}]}
], "spacing": 71}
],
"config": {
 "view": {"stroke": null},
 "font": "Liberation Sans",
 "title": {"font": "Liberation Sans", "fontSize": 17, "fontWeight": "bold", "color": "#000", "offset": 9},
 "axis": {"domainColor": "#000", "domainWidth": 2, "tickColor": "#000", "tickWidth": 2, "tickSize": 5, "labelColor": "#000", "labelFont": "Liberation Sans", "labelFontWeight": "bold", "titleFont": "Liberation Sans", "titleFontWeight": "bold", "titleColor": "#000", "grid": false},
 "axisX": {"labelFontSize": 13, "labelPadding": 3},
 "axisY": {"labelFontSize": 12, "titleFontSize": 14, "labelPadding": 2, "titlePadding": 13}
}
}
